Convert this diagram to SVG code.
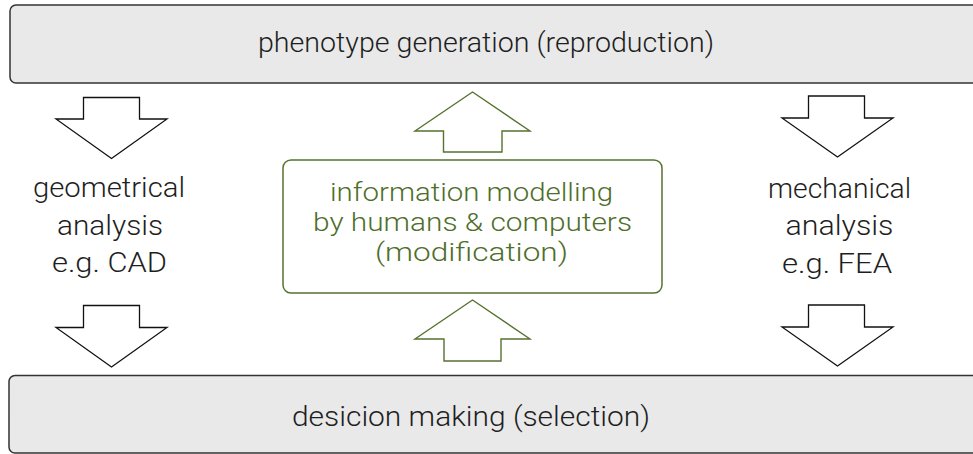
<svg xmlns="http://www.w3.org/2000/svg" width="973" height="454" viewBox="0 0 973 454">
<style>
.band{fill:#e9e9e9;stroke:#333;stroke-width:1.5}
.txt{font-family:Roboto,"Liberation Sans",Arial,sans-serif;font-weight:300;font-size:28px;fill:#1e1e1e;text-anchor:middle}
.gtxt{font-family:Roboto,"Liberation Sans",Arial,sans-serif;font-weight:300;font-size:26.5px;fill:#4f6e2a;text-anchor:middle}
.arr{fill:#fff;stroke:#111;stroke-width:1.3;stroke-linejoin:miter}
.garr{fill:#fff;stroke:#55722f;stroke-width:1.4;stroke-linejoin:miter}
.gbox{fill:#fff;stroke:#55722f;stroke-width:1.5}
</style>
<rect width="973" height="454" fill="#fff"/>
<g id="phenotype">
<rect class="band" x="10" y="5" width="975" height="78" rx="6"/>
<text class="txt" x="486" y="52" textLength="456" lengthAdjust="spacingAndGlyphs">phenotype generation (reproduction)</text>
</g>
<g id="decision">
<rect class="band" x="9" y="375.5" width="975" height="77.5" rx="6"/>
<text class="txt" x="471" y="425.5" textLength="358" lengthAdjust="spacingAndGlyphs">desicion making (selection)</text>
</g>
<g id="geometrical">
<text class="txt" x="109" y="197" textLength="152" lengthAdjust="spacingAndGlyphs">geometrical</text>
<text class="txt" x="110" y="235" textLength="106" lengthAdjust="spacingAndGlyphs">analysis</text>
<text class="txt" x="109.5" y="272" textLength="115" lengthAdjust="spacingAndGlyphs">e.g. CAD</text>
</g>
<g id="mechanical">
<text class="txt" x="839.5" y="197.5" textLength="143" lengthAdjust="spacingAndGlyphs">mechanical</text>
<text class="txt" x="839.5" y="235" textLength="108" lengthAdjust="spacingAndGlyphs">analysis</text>
<text class="txt" x="837" y="272.5" textLength="110" lengthAdjust="spacingAndGlyphs">e.g. FEA</text>
</g>
<g id="modelling">
<rect class="gbox" x="283" y="160" width="379" height="133" rx="8"/>
<text class="gtxt" x="471.5" y="201" textLength="283" lengthAdjust="spacingAndGlyphs">information modelling</text>
<text class="gtxt" x="472.5" y="231" textLength="319" lengthAdjust="spacingAndGlyphs">by humans &amp; computers</text>
<text class="gtxt" x="471.5" y="261" textLength="193" lengthAdjust="spacingAndGlyphs">(modification)</text>
</g>
<g id="connectors">
<polygon class="arr" points="83.5,97.5 139.5,97.5 139.5,119 167,119 111.5,158.5 56,119 83.5,119"/>
<polygon class="arr" points="83.5,305.5 139.5,305.5 139.5,327.5 167,327.5 111.5,367 56,327.5 83.5,327.5"/>
<polygon class="arr" points="808.5,96 864.5,96 864.5,118 893,118 837.5,157 782,118 808.5,118"/>
<polygon class="arr" points="808.5,305 864.5,305 864.5,327 893,327 837.5,366 782,327 808.5,327"/>
<polygon class="garr" points="443.5,152 502,152 502,131 530,131 472.5,92 415,131 443.5,131"/>
<polygon class="garr" points="444,361 501,361 501,339 530,339 472.5,300 415,339 444,339"/>
</g>
</svg>
